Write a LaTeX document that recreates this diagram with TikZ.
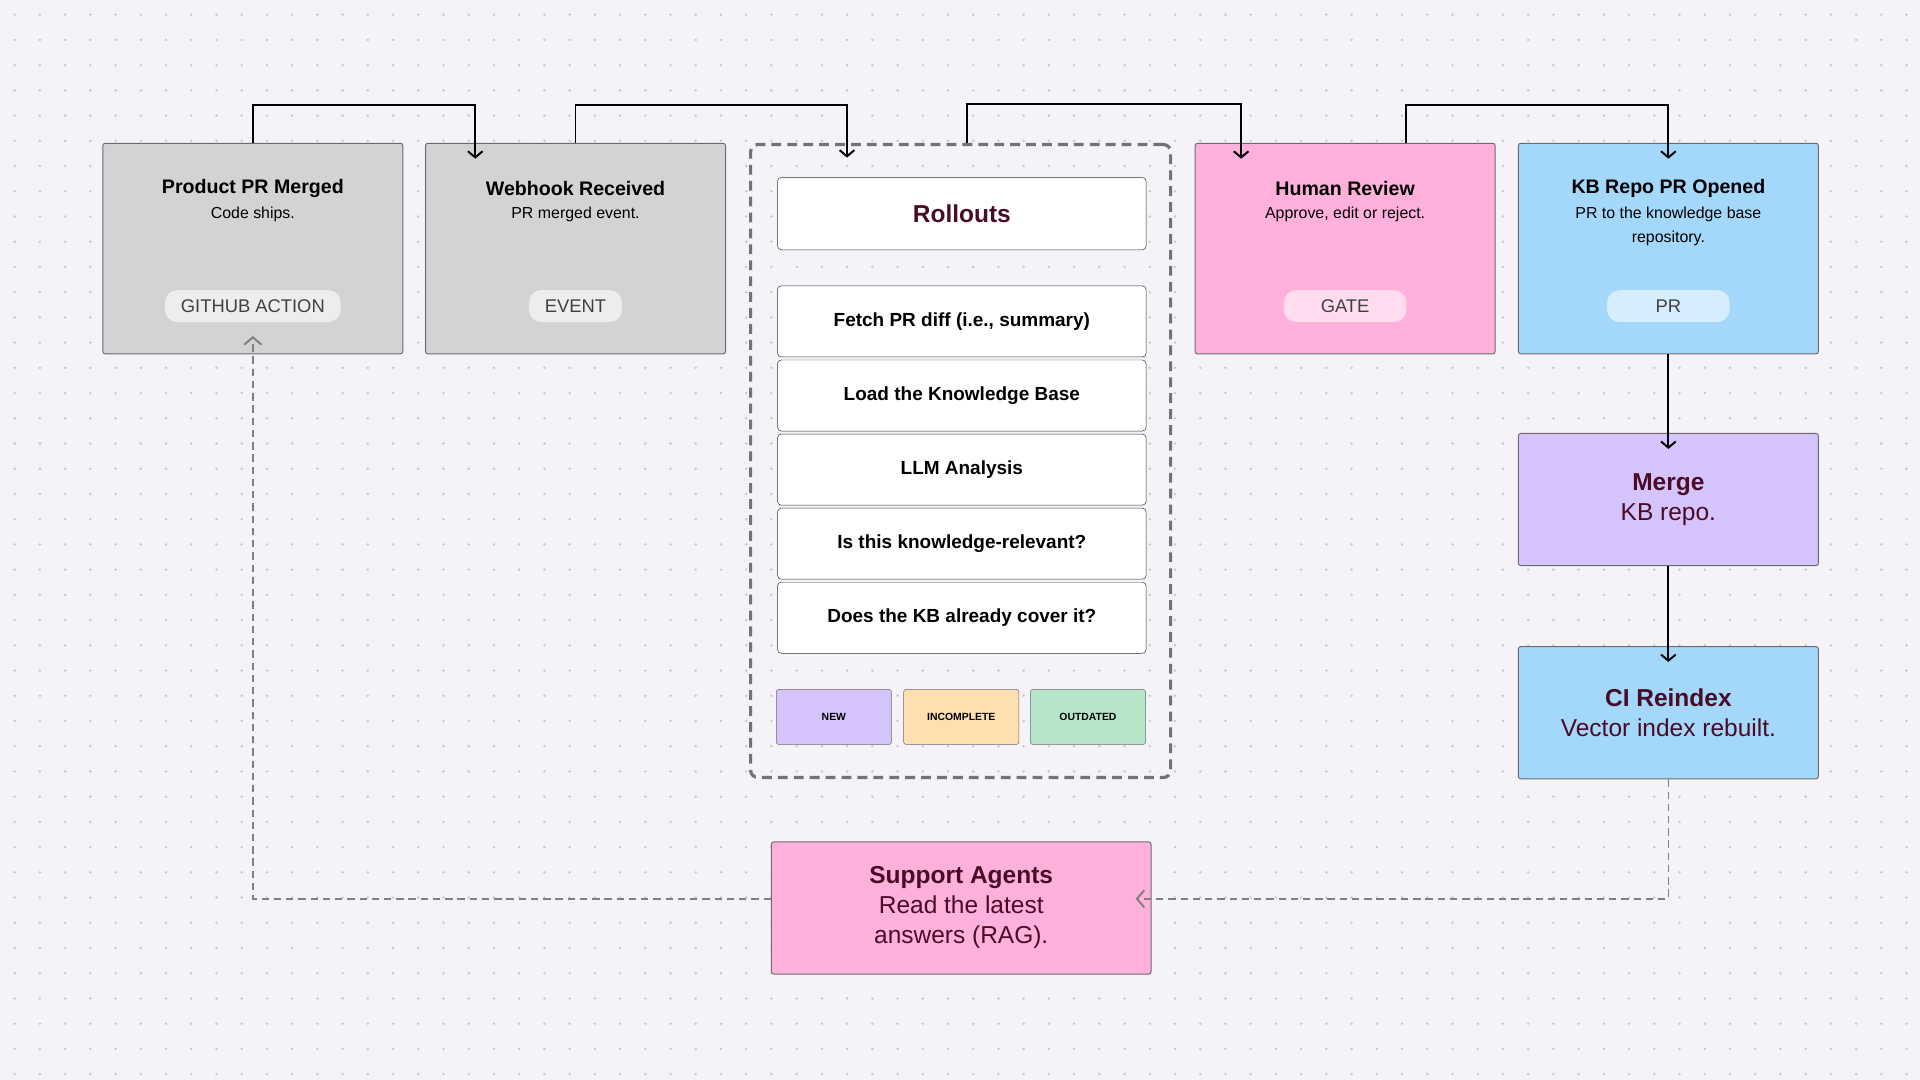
\documentclass[tikz,border=0pt]{standalone}
\usepackage{fontspec}
\setmainfont{Liberation Sans}
\usetikzlibrary{arrows.meta,positioning}

\definecolor{bgc}{HTML}{F5F3F7}
\definecolor{dotc}{HTML}{C9C6CC}
\definecolor{grayc}{HTML}{D4D2D5}
\definecolor{pinkc}{HTML}{FFB1DC}
\definecolor{bluec}{HTML}{A3D8FA}
\definecolor{purpc}{HTML}{D5C3FB}
\definecolor{orangec}{HTML}{FDDFB0}
\definecolor{greenc}{HTML}{B5E6C8}
\definecolor{maroon}{HTML}{4A0B26}
\definecolor{edgec}{HTML}{6E6B70}

\tikzset{
  card/.style={draw=edgec, rounded corners=2pt, minimum width=245pt, minimum height=172pt, line width=0.8pt},
  big/.style={draw=edgec, rounded corners=2pt, minimum width=245pt, minimum height=108pt, line width=0.8pt, align=center, font=\fontsize{20}{24.5}\selectfont, text=maroon},
  stage/.style={draw=black!80, fill=white, rounded corners=3pt, minimum width=301pt, minimum height=58pt, font=\bfseries\fontsize{15.5}{18}\selectfont},
  tag/.style={draw=edgec, rounded corners=2pt, minimum width=94pt, minimum height=45pt, font=\bfseries\fontsize{8.5}{10}\selectfont},
  pill/.style={rounded corners=10pt, minimum height=26pt, inner xsep=13pt, font=\fontsize{15}{17}\selectfont, text=black!75},
  ttl/.style={font=\bfseries\fontsize{16}{19}\selectfont},
  sub/.style={font=\fontsize{13}{20}\selectfont, align=center},
  flow/.style={line width=1.6pt, -{Straight Barb[length=5pt,width=12pt]}},
  back/.style={dashed, dash pattern=on 6pt off 4pt, line width=1.4pt, draw=black!50, -{Straight Barb[length=6pt,width=14pt,line width=1.6pt]}}
}

\begin{document}
\begin{tikzpicture}[x=1pt,y=-1pt]
  \fill[bgc] (0,0) rectangle (1568,882);
  \useasboundingbox (0,0) rectangle (1568,882);
  \foreach \i in {0,...,76}
    \foreach \j in {0,...,43}
      \fill[dotc] (12+20.6*\i,12+20.6*\j) circle (1.1pt);

  % top row
  \node[card, fill=grayc] (pr) at (206.5,203) {};
  \node[ttl] at (206.5,154) {Product PR Merged};
  \node[sub] at (206.5,175) {Code ships.};
  \node[pill, fill=white!60!grayc] (prtag) at (206.5,250) {GITHUB ACTION};

  \node[card, fill=grayc] (hook) at (470,203) {};
  \node[ttl] at (470,154) {Webhook Received};
  \node[sub] at (470,175) {PR merged event.};
  \node[pill, fill=white!60!grayc] at (470,250) {EVENT};

  \node[card, fill=pinkc] (review) at (1098.5,203) {};
  \node[ttl] at (1098.5,154) {Human Review};
  \node[sub] at (1098.5,175) {Approve, edit or reject.};
  \node[pill, fill=pinkc!45, minimum width=100pt] at (1098.5,250) {GATE};

  \node[card, fill=bluec] (kbpr) at (1362.5,203) {};
  \node[ttl] at (1362.5,154) {KB Repo PR Opened};
  \node[sub] at (1362.5,185) {PR to the knowledge base\\repository.};
  \node[pill, fill=bluec!45, minimum width=100pt] at (1362.5,250) {PR};

  % rollouts
  \node[draw=black!55, dashed, dash pattern=on 8pt off 5pt, line width=2.6pt, rounded corners=6pt,
        minimum width=343pt, minimum height=517pt] (roll) at (784.5,376.5) {};
  \node[stage, font=\bfseries\fontsize{20}{22}\selectfont, text=maroon, minimum height=59pt] (title) at (785.5,174.5) {Rollouts};
  \node[stage] (s1) at (785.5,262.5) {Fetch PR diff (i.e., summary)};
  \node[stage] (s2) at (785.5,323) {Load the Knowledge Base};
  \node[stage] (s3) at (785.5,383.5) {LLM Analysis};
  \node[stage] (s4) at (785.5,444) {Is this knowledge-relevant?};
  \node[stage] (s5) at (785.5,504.5) {Does the KB already cover it?};
  \node[tag, fill=purpc] (tnew) at (681,585.5) {NEW};
  \node[tag, fill=orangec] (tinc) at (785,585.5) {INCOMPLETE};
  \node[tag, fill=greenc] (tout) at (888.5,585.5) {OUTDATED};

  % right column
  \node[big, fill=purpc] (merge) at (1362.5,408) {\textbf{Merge}\\KB repo.};
  \node[big, fill=bluec] (ci) at (1362.5,582) {\textbf{CI Reindex}\\Vector index rebuilt.};
  \node[big, fill=pinkc, minimum width=310pt] (agents) at (785,741.5) {\textbf{Support Agents}\\Read the latest\\answers (RAG).};

  % flow
  \draw[flow] (pr.north) -- ++(0,-31) -| ([xshift=41pt,yshift=-13pt]hook.north west);
  \draw[flow] (hook.north) -- ++(0,-31) -| ([xshift=80pt,yshift=-12pt]roll.north west);
  \draw[flow] ([xshift=178pt]roll.north west) -- ++(0,-32) -| ([xshift=38pt,yshift=-13pt]review.north west);
  \draw[flow] ([xshift=173pt]review.north west) -- ++(0,-31) -| ([yshift=-13pt]kbpr.north);
  \draw[flow] (kbpr.south) -- ([yshift=-13pt]merge.north);
  \draw[flow] (merge.south) -- ([yshift=-13pt]ci.north);

  % feedback
  \draw[back] (ci.south) |- ([xshift=-13pt,yshift=7.5pt]agents.east);
  \draw[back] ([yshift=7.5pt]agents.west) -| ([yshift=15pt]pr.south);
\end{tikzpicture}
\end{document}
